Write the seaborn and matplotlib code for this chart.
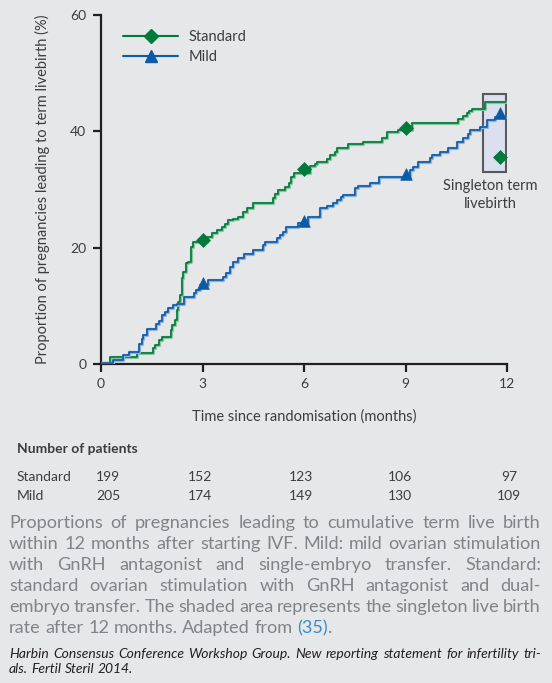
import numpy as np
import pandas as pd
import matplotlib
matplotlib.use('Agg')
import matplotlib.pyplot as plt
import matplotlib.patheffects as pe
from matplotlib.lines import Line2D
from matplotlib.patches import Rectangle
import seaborn as sns

# cumulative term livebirth curves (months, %)
std_t = [0, 0.27, 1.05, 1.55, 1.6, 1.72, 1.8, 2.07, 2.11, 2.19, 2.24, 2.29, 2.34, 2.38, 2.43,
         2.5, 2.58, 2.66, 2.73, 3.12, 3.27, 3.42, 3.57, 3.66, 3.76, 3.9, 4.06, 4.2, 4.31, 4.5,
         5.07, 5.15, 5.24, 5.44, 5.57, 5.61, 5.7, 6.18, 6.33, 6.38, 6.67, 6.77, 6.92, 6.97,
         7.31, 7.74, 8.3, 8.44, 8.79, 9.18, 10.56, 10.7, 10.81, 10.88, 10.96, 11.35, 11.97]
std_v = [0.2, 1.26, 1.83, 2.7, 3.3, 4.1, 4.7, 5.8, 6.7, 7.6, 9.3, 10.7, 11.9, 14.7, 15.9,
         17.3, 17.6, 20.2, 21.0, 21.8, 22.5, 23.0, 23.5, 24.0, 24.8, 25.0, 25.3, 26.2, 26.8, 27.6,
         28.5, 29.2, 29.9, 30.5, 31.1, 32.2, 32.8, 34.0, 34.3, 34.8, 35.2, 35.9, 36.5, 37.1,
         37.8, 38.2, 38.8, 39.8, 40.3, 41.5, 42.1, 42.6, 43.1, 43.5, 43.9, 45.0, 45.0]

mild_t = [0, 0.36, 0.64, 0.84, 1.13, 1.2, 1.25, 1.35, 1.63, 1.7, 1.79, 1.88, 1.99, 2.12, 2.26,
          2.45, 2.76, 2.8, 2.93, 3.17, 3.61, 3.7, 3.81, 3.89, 4.05, 4.23, 4.5, 4.8, 4.85, 5.2,
          5.29, 5.37, 5.47, 5.83, 6.13, 6.47, 6.67, 6.85, 6.97, 7.1, 7.16, 7.51, 7.6, 7.95,
          8.23, 9.13, 9.23, 9.38, 9.72, 9.77, 10.02, 10.27, 10.51, 10.71, 10.86, 10.91, 11.2,
          11.4, 11.65, 11.97]
mild_v = [0.2, 0.7, 1.55, 2.1, 3.5, 4.3, 5.0, 6.0, 6.9, 7.4, 8.4, 9.0, 9.6, 10.1, 10.4,
          11.6, 12.2, 12.7, 13.6, 14.4, 15.0, 15.6, 16.7, 17.6, 18.2, 18.9, 19.6, 20.5, 21.0, 21.6,
          22.2, 22.7, 23.6, 24.2, 25.3, 26.8, 27.2, 27.7, 28.2, 28.7, 29.1, 30.2, 30.6, 31.1,
          32.1, 33.3, 33.9, 34.8, 35.4, 35.9, 36.5, 37.1, 38.2, 38.8, 39.6, 40.2, 40.8,
          41.9, 42.5, 42.5]

# markers
mark_t = [3, 6, 9, 11.8]
std_mark = [21.4, 33.6, 40.5, 35.6]   # last one: singleton term livebirth
mild_mark = [13.9, 24.6, 32.6, 43.2]

# singleton box (x range, y range)
box_x = [11.29, 11.97]
box_y = [33.0, 46.4]

groups = ['Standard', 'Mild']
std_n = [199, 152, 123, 106, 97]
mild_n = [205, 174, 149, 130, 109]

caption = ["Proportions of pregnancies leading to cumulative term live birth",
           "within 12 months after starting IVF. Mild: mild ovarian stimulation",
           "with GnRH antagonist and single-embryo transfer. Standard:",
           "standard ovarian stimulation with GnRH antagonist and dual-",
           "embryo transfer. The shaded area represents the singleton live birth",
           "rate after 12 months. Adapted from"]
ref_txt = "(35)"
citation = ["Harbin Consensus Conference Workshop Group. New reporting statement for infertility tri-",
            "als. Fertil Steril 2014."]

BG = '#e6e7e8'
GREEN = '#00793c'
BLUE = '#0b5aa6'
DARK = '#231f20'
TXT = '#3d3d3f'
W, H = 552, 683

sns.set_theme(style='ticks')
plt.rcParams['font.family'] = ['Lato', 'DejaVu Sans']

fig = plt.figure(figsize=(W / 100, H / 100), dpi=100, facecolor=BG)
ax = fig.add_axes([101 / W, 1 - 364 / H, 406 / W, 349 / H])
ax.set_facecolor(BG)

halo_g = [pe.Stroke(linewidth=2.3, foreground='#8cc3a0'), pe.Normal()]
halo_b = [pe.Stroke(linewidth=2.3, foreground='#8fb2d8'), pe.Normal()]

ax.add_patch(Rectangle((box_x[0], box_y[0]), box_x[1] - box_x[0], box_y[1] - box_y[0],
                       facecolor='#dcdfef', edgecolor='#58595b', lw=1.5, zorder=1.5))

df_std = pd.DataFrame({'t': std_t, 'v': std_v})
df_mild = pd.DataFrame({'t': mild_t, 'v': mild_v})
sns.lineplot(data=df_std, x='t', y='v', ax=ax, color=GREEN, lw=1.2, estimator=None,
             drawstyle='steps-post', path_effects=halo_g, zorder=3)
sns.lineplot(data=df_mild, x='t', y='v', ax=ax, color=BLUE, lw=1.2, estimator=None,
             drawstyle='steps-post', path_effects=halo_b, zorder=3)
sns.scatterplot(x=mark_t, y=std_mark, ax=ax, marker='D', s=50, color=GREEN,
                edgecolor=GREEN, linewidth=0.5, zorder=4)
sns.scatterplot(x=mark_t, y=mild_mark, ax=ax, marker='^', s=70, color=BLUE,
                edgecolor=BLUE, linewidth=0.5, zorder=4)

ax.set_xlim(0, 12)
ax.set_ylim(0, 60)
ax.set_xticks([0, 3, 6, 9, 12])
ax.set_yticks([0, 20, 40, 60])
sns.despine(ax=ax)
for s in ['left', 'bottom']:
    ax.spines[s].set_color(DARK)
    ax.spines[s].set_linewidth(1.6)
ax.tick_params(axis='both', length=6, width=1.6, color=DARK, labelsize=10, labelcolor=TXT)
ax.tick_params(axis='y', pad=4.5)
ax.tick_params(axis='x', pad=4)
ax.set_xlabel('Time since randomisation (months)', fontsize=10.5, color=TXT)
ax.set_ylabel('Proportion of pregnancies leading to term livebirth (%)', fontsize=10.5, color=TXT)
ax.xaxis.set_label_coords(0.5, -0.13)
ax.yaxis.set_label_coords(-0.125, 0.5)

handles = [Line2D([], [], color=GREEN, lw=1.5, marker='D', ms=7),
           Line2D([], [], color=BLUE, lw=1.5, marker='^', ms=8)]
ax.legend(handles, groups, loc='upper left', bbox_to_anchor=(0.054, 0.958), frameon=False,
          fontsize=10.5, handlelength=3.8, handletextpad=0.7, labelspacing=0.45,
          borderpad=0, borderaxespad=0, labelcolor=TXT)

ax.text(11.5, 31.8, 'Singleton term\nlivebirth', ha='center', va='top', fontsize=10.5,
        color=TXT, linespacing=1.4)

# number at risk table
def fx(px):
    return px / W

def fy(py):
    return 1 - py / H

fig.text(fx(17), fy(449), 'Number of patients', fontsize=10, fontweight='bold', color=TXT, va='center')
col_px = [108, 200, 301, 400, 509]
for row_y, name, vals in [(477, groups[0], std_n), (496, groups[1], mild_n)]:
    fig.text(fx(17), fy(row_y), name, fontsize=10, color=TXT, va='center')
    for cx, v in zip(col_px, vals):
        fig.text(fx(cx), fy(row_y), str(v), fontsize=10, color=TXT, va='center', ha='center')

# justified paragraphs
rend = fig.canvas.get_renderer()

def width_of(s, size, style='normal'):
    t = fig.text(0, 0, s, fontsize=size, style=style)
    w = t.get_window_extent(renderer=rend).width
    t.remove()
    return w

def fit_size(line, target, style='normal'):
    return 10 * target / width_of(line, 10, style)

def justify(lines, x0, x1, y0, dy, size, color, style='normal'):
    sp = width_of('a a', size, style) - width_of('aa', size, style)
    ends = []
    for i, line in enumerate(lines):
        words = line.split(' ')
        ws = [width_of(w, size, style) for w in words]
        if i < len(lines) - 1:
            gap = (x1 - x0 - sum(ws)) / (len(words) - 1)
        else:
            gap = sp
        x = x0
        for w, wd in zip(words, ws):
            fig.text(fx(x), fy(y0 + i * dy), w, fontsize=size, color=color, style=style,
                     va='baseline', ha='left')
            x += wd + gap
        ends.append(x - gap)
    return ends, sp

cap_size = fit_size(caption[1], 522)
ends, sp = justify(caption, 9, 541, 528, 21, cap_size, '#828386')
xr = ends[-1] + sp
fig.text(fx(xr), fy(528 + 5 * 21), ref_txt, fontsize=cap_size, color='#3b8cc6', va='baseline')
xr += width_of(ref_txt, cap_size)
fig.text(fx(xr), fy(528 + 5 * 21), '.', fontsize=cap_size, color='#828386', va='baseline')

cit_size = fit_size(citation[0], 525, 'italic')
justify(citation, 9, 541, 658, 15, cit_size, DARK, 'italic')

fig.savefig('out.png', dpi=100, facecolor=BG)
